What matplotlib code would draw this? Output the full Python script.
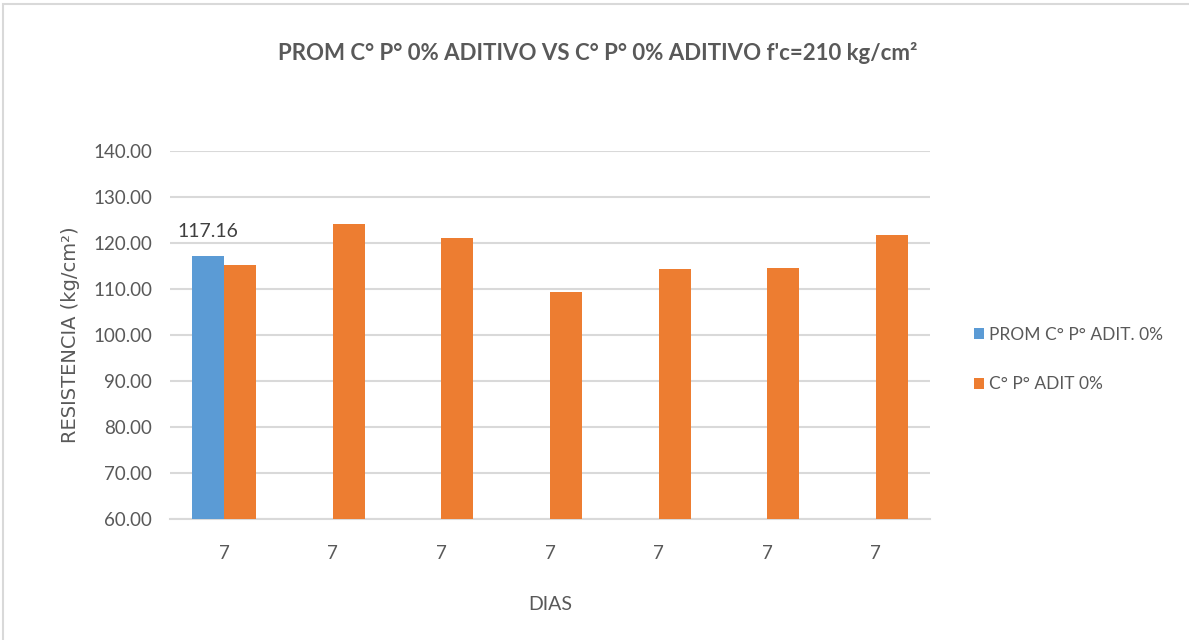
import numpy as np
import matplotlib
matplotlib.use("Agg")
import matplotlib.pyplot as plt
from matplotlib.patches import Rectangle

# Values read from the test sheet (kg/cm2), 7-day specimens
dias = ["7", "7", "7", "7", "7", "7", "7"]
prom_adit0 = [117.16, np.nan, np.nan, np.nan, np.nan, np.nan, np.nan]
probetas_adit0 = [115.2, 124.1, 121.1, 109.4, 114.4, 114.6, 121.8]

serie_names = ["PROM C° P° ADIT. 0%", "C° P° ADIT 0%"]
titulo = "PROM C° P° 0% ADITIVO VS C° P° 0% ADITIVO f'c=210 kg/cm²"

azul = "#5B9BD5"
naranja = "#ED7D31"
gris_txt = "#595959"
gris_grid = "#D9D9D9"
narrow = ["Lato", "DejaVu Sans"]

fig = plt.figure(figsize=(11.89, 6.40), dpi=100)
ax = fig.add_axes([170 / 1189, 1 - 519 / 640, 760 / 1189, 368 / 640])

x = np.arange(len(dias))
w = 0.295
ax.bar(x - w / 2, prom_adit0, width=w, color=azul, label=serie_names[0], zorder=3)
ax.bar(x + w / 2, probetas_adit0, width=w, color=naranja, label=serie_names[1], zorder=3)

# data label on the average bar
ax.text(x[0] - w / 2, prom_adit0[0] + 3.6, f"{prom_adit0[0]:.2f}", ha="center", va="bottom",
        fontsize=14, color="#404040", family=narrow)

ax.set_xlim(-0.5, len(dias) - 0.5)
ax.set_ylim(60, 140)
ax.set_yticks(np.arange(60, 141, 10))
ax.set_yticklabels([f"{v:.2f}" for v in np.arange(60, 141, 10)], family=narrow, fontsize=13.5, color=gris_txt)
ax.set_xticks(x)
ax.set_xticklabels(dias, family=narrow, fontsize=13.5, color=gris_txt)
ax.tick_params(axis="y", length=0, pad=13)
ax.tick_params(axis="x", length=0, pad=19)

ax.grid(axis="y", color=gris_grid, lw=1.5, zorder=0)
for s in ["top", "right", "left"]:
    ax.spines[s].set_visible(False)
ax.spines["bottom"].set_color(gris_grid)
ax.spines["bottom"].set_linewidth(1.5)

ax.set_xlabel("DIAS", family=narrow, fontsize=14, color=gris_txt)
ax.xaxis.set_label_coords(0.5, -(596 - 519) / 368)
ax.set_ylabel("RESISTENCIA (kg/cm²)", family=["DejaVu Sans"], fontsize=14, color=gris_txt)
ax.yaxis.set_label_coords(-(170 - 80) / 760, 0.5)

fig.text(598 / 1189, 1 - 53 / 640, titulo, ha="center", va="center", fontsize=16,
         fontweight="bold", color=gris_txt, family=narrow)

leg = fig.legend(loc="upper left", bbox_to_anchor=(958 / 1189, 1 - 311 / 640), frameon=False,
                 handlelength=0.6, handleheight=0.6, handletextpad=0.3, labelspacing=1.95,
                 prop={"family": narrow, "size": 12.5})
for t in leg.get_texts():
    t.set_color(gris_txt)

# chart area border
fig.patches.append(Rectangle((3 / 1189, -0.1), 1.2, 1.1 - 4 / 640, transform=fig.transFigure,
                             fill=False, edgecolor=gris_grid, lw=1.5))

fig.savefig("out.png", dpi=100)
